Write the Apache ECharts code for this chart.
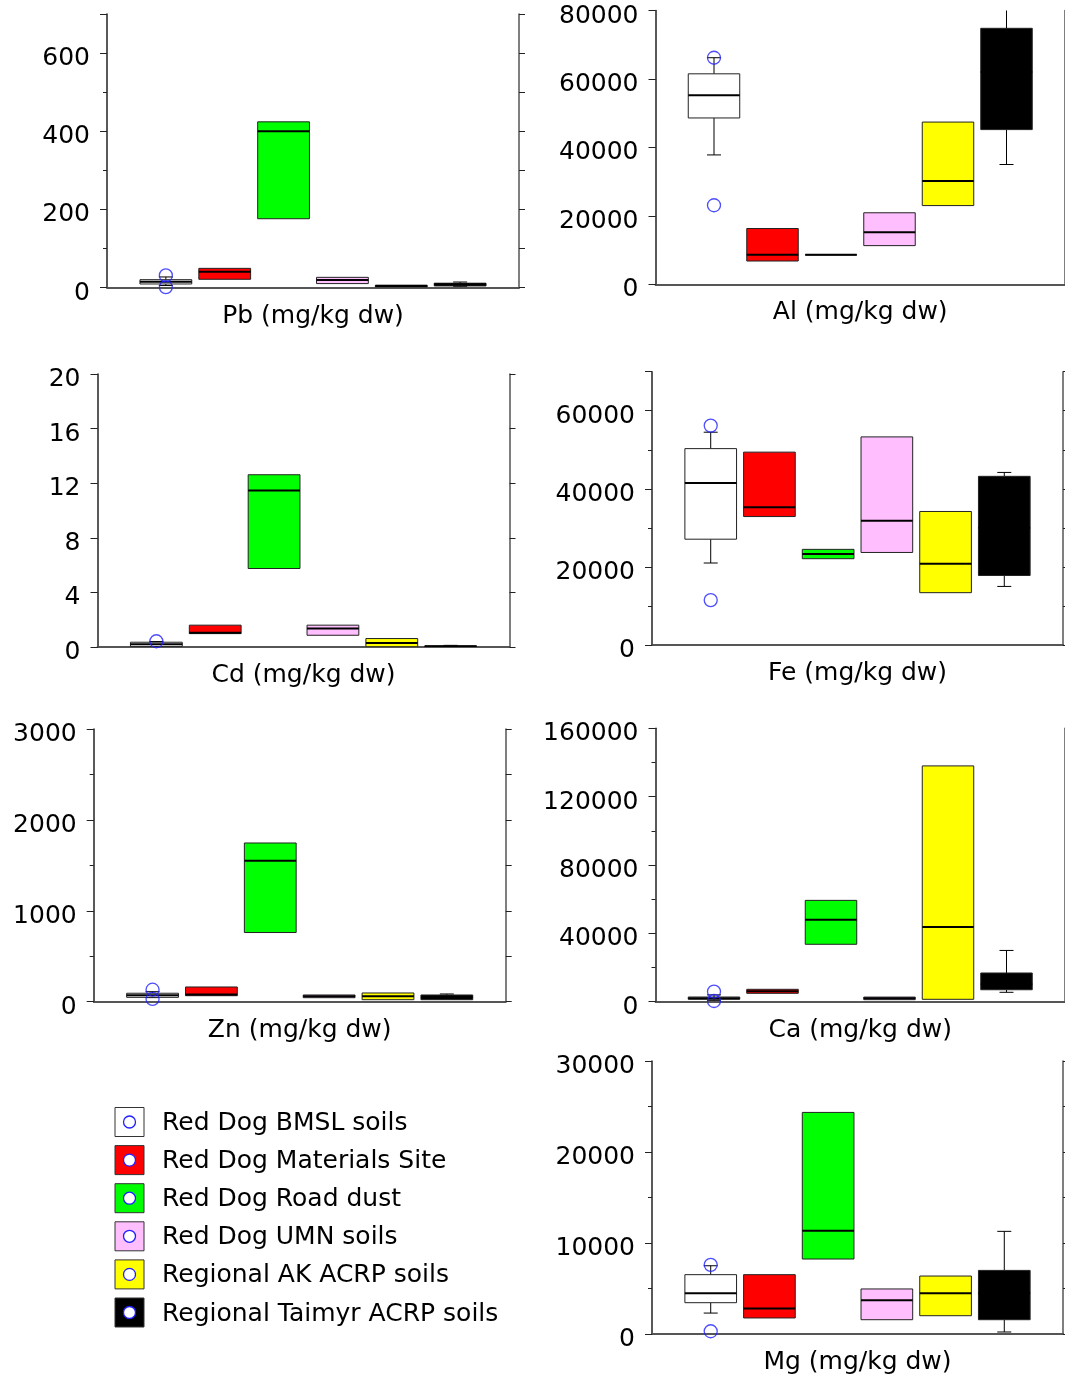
<!DOCTYPE html>
<html><head><meta charset="utf-8">
<script src="https://cdn.jsdelivr.net/npm/echarts@6.0.0/dist/echarts.min.js"></script>
<style>html,body{margin:0;padding:0;background:#fff}#chart{width:1065px;height:1376px}</style>
</head><body><div id="chart"></div>
<script>
// ---------- data ----------
const groups = ['Red Dog BMSL soils', 'Red Dog Materials Site', 'Red Dog Road dust', 'Red Dog UMN soils', 'Regional AK ACRP soils', 'Regional Taimyr ACRP soils'];
const titles = ['Pb (mg/kg dw)', 'Al (mg/kg dw)', 'Cd (mg/kg dw)', 'Fe (mg/kg dw)', 'Zn (mg/kg dw)', 'Ca (mg/kg dw)', 'Mg (mg/kg dw)'];
// box statistics per group: [min, Q1, median, Q3, max]
const pbBoxes = [[5, 9, 15, 20, 27], [21, 21, 40, 49, 49], [176, 176, 400, 424, 424], [10, 10, 19, 26, 26], [1, 1, 4, 6, 6], [3, 4, 8, 11, 14]];
const alBoxes = [[37800, 48600, 55250, 61500, 66200], [6800, 6800, 8600, 16300, 16300], [8600, 8600, 8600, 8600, 8600], [11300, 11300, 15200, 20900, 20900], [23000, 23000, 30200, 47400, 47400], [35000, 45200, 62000, 74800, 86000]];
const cdBoxes = [[0.02, 0.03, 0.2, 0.35, 0.4], [0.98, 0.98, 1.05, 1.6, 1.6], [5.75, 5.75, 11.47, 12.62, 12.62], [0.86, 0.86, 1.35, 1.6, 1.6], [0.02, 0.02, 0.3, 0.62, 0.62], [0.01, 0.02, 0.05, 0.08, 0.12]];
const feBoxes = [[21000, 27100, 41500, 50300, 54500], [32900, 32900, 35300, 49400, 49400], [22100, 22100, 23300, 24500, 24500], [23700, 23700, 31800, 53300, 53300], [13400, 13400, 20800, 34200, 34200], [15000, 17800, 30000, 43200, 44200]];
const znBoxes = [[45, 48, 70, 93, 110], [66, 66, 80, 162, 162], [761, 761, 1551, 1746, 1746], [44, 44, 60, 74, 74], [22, 22, 60, 96, 96], [22, 22, 50, 74, 85]];
const caBoxes = [[800, 1400, 2000, 2750, 4000], [4900, 4900, 6100, 7250, 7250], [33600, 33600, 48000, 59300, 59300], [1200, 1200, 2000, 2700, 2700], [1400, 1400, 43700, 138000, 138000], [5500, 7000, 10200, 16800, 30000]];
const mgBoxes = [[2300, 3440, 4470, 6520, 7500], [1760, 1760, 2810, 6520, 6520], [8240, 8240, 11350, 24350, 24350], [1570, 1570, 3700, 4950, 4950], [2010, 2010, 4470, 6370, 6370], [220, 1570, 4470, 6990, 11280]];
// outliers: [groupIndex, value]
const pbOutliers = [[0, 31], [0, 1]];
const alOutliers = [[0, 66200], [0, 23100]];
const cdOutliers = [[0, 0.42]];
const feOutliers = [[0, 56200], [0, 11500]];
const znOutliers = [[0, 132], [0, 30]];
const caOutliers = [[0, 5900], [0, 400]];
const mgOutliers = [[0, 7600], [0, 300]];
// axis scales
const yMax = [700, 80000, 20, 70000, 3000, 160000, 30000];
const yMajor = [200, 20000, 4, 20000, 1000, 40000, 10000];
const yMinor = [100, 20000, 4, 10000, 500, 20000, 5000];

const allBoxes = [pbBoxes, alBoxes, cdBoxes, feBoxes, znBoxes, caBoxes, mgBoxes];
const allOutliers = [pbOutliers, alOutliers, cdOutliers, feOutliers, znOutliers, caOutliers, mgOutliers];

// ---------- style / layout ----------
const boxColors = ['#ffffff', '#ff0000', '#00ff00', '#ffbfff', '#ffff00', '#000000'];
const FONT = 'DejaVu Sans';
const FS = 25;
const layout = [
  {left: 107, top: 14, width: 412, height: 273.5},
  {left: 655.5, top: 10.5, width: 411, height: 273.8},
  {left: 97.5, top: 374, width: 412, height: 273},
  {left: 652, top: 371.7, width: 411, height: 273.3},
  {left: 93.7, top: 729, width: 412, height: 272.7},
  {left: 655.5, top: 728.3, width: 410, height: 273.4},
  {left: 652, top: 1061, width: 411, height: 273.5}
];

function renderBox(params, api) {
  const pos = api.value(0);
  const mn = api.value(1), q1 = api.value(2), md = api.value(3), q3 = api.value(4), mx = api.value(5);
  const band = api.size([1, 0])[0];
  const half = band * 0.44;
  const cap = 7;
  const cx = api.coord([pos, q3])[0];
  const y = v => api.coord([pos, v])[1];
  const children = [];
  const ln = (x1, y1, x2, y2, w) => ({type: 'line', shape: {x1, y1, x2, y2}, style: {stroke: '#000', lineWidth: w || 1}});
  if (mx > q3) { children.push(ln(cx, y(q3), cx, y(mx)), ln(cx - cap, y(mx), cx + cap, y(mx))); }
  if (mn < q1) { children.push(ln(cx, y(q1), cx, y(mn)), ln(cx - cap, y(mn), cx + cap, y(mn))); }
  children.push({type: 'rect', shape: {x: cx - half, y: y(q3), width: 2 * half, height: y(q1) - y(q3)},
    style: {fill: boxColors[pos - 1], stroke: '#222', lineWidth: 1}});
  children.push(ln(cx - half, y(md), cx + half, y(md), 2));
  return {type: 'group', children};
}

const grid = [], xAxis = [], yAxis = [], series = [];
layout.forEach((L, i) => {
  grid.push(Object.assign({}, L));
  const xa = xAxis.length;
  xAxis.push({gridIndex: i, type: 'value', min: 0, max: 7, show: false});
  xAxis.push({gridIndex: i, type: 'category', data: [''], position: 'bottom', boundaryGap: true,
    axisLine: {lineStyle: {color: '#222', width: 1.5}},
    axisTick: {alignWithLabel: true, length: 6, lineStyle: {color: '#222'}},
    axisLabel: {show: false},
    name: titles[i], nameLocation: 'middle', nameGap: 16,
    nameTextStyle: {fontSize: FS, color: '#000', fontFamily: FONT}});
  xAxis.push({gridIndex: i, type: 'category', data: [''], position: 'top', boundaryGap: true,
    axisLine: {lineStyle: {color: '#555', width: 1.5}},
    axisTick: {alignWithLabel: true, length: 6, lineStyle: {color: '#222'}},
    axisLabel: {show: false}});
  const ya = yAxis.length;
  const major = yMajor[i];
  yAxis.push({gridIndex: i, type: 'value', min: 0, max: yMax[i], interval: major, position: 'left',
    axisLine: {show: true, lineStyle: {color: '#222', width: 1.5}},
    axisTick: {show: true, length: 7, lineStyle: {color: '#222'}},
    splitLine: {show: false},
    axisLabel: {margin: 17, fontSize: FS, color: '#000', fontFamily: FONT, verticalAlign: 'top', lineHeight: 11,
      formatter: v => (Math.abs(v / major - Math.round(v / major)) < 1e-9 ? String(v) : '')}});
  yAxis.push({gridIndex: i, type: 'value', min: 0, max: yMax[i], interval: yMinor[i], position: 'left',
    axisLine: {show: false}, axisTick: {show: true, length: 4, lineStyle: {color: '#222'}},
    axisLabel: {show: false}, splitLine: {show: false}});
  yAxis.push({gridIndex: i, type: 'value', min: 0, max: yMax[i], interval: yMinor[i], position: 'right',
    axisLine: {show: true, lineStyle: {color: '#555', width: 1.5}},
    axisTick: {show: true, length: 6, lineStyle: {color: '#222'}},
    axisLabel: {show: false}, splitLine: {show: false}});
  series.push({type: 'custom', xAxisIndex: xa, yAxisIndex: ya, clip: true,
    renderItem: renderBox, encode: {x: 0, y: [1, 2, 3, 4, 5]},
    data: allBoxes[i].map((b, g) => [g + 1].concat(b))});
  series.push({type: 'scatter', xAxisIndex: xa, yAxisIndex: ya, clip: true, z: 5,
    symbol: 'circle', symbolSize: 13,
    itemStyle: {color: 'rgba(0,0,0,0)', borderColor: '#2020ff', borderWidth: 1.3},
    data: allOutliers[i].map(o => [o[0] + 1, o[1]])});
});

const legendItems = groups.map((name, i) => ({
  type: 'group', x: 115, y: 1107.5 + 38.1 * i,
  children: [
    {type: 'rect', shape: {x: 0, y: 0, width: 29, height: 29}, style: {fill: boxColors[i], stroke: '#333', lineWidth: 1}},
    {type: 'circle', shape: {cx: 14.5, cy: 14.5, r: 6}, style: {fill: '#fff', stroke: '#2020ff', lineWidth: 1.3}},
    {type: 'text', x: 47, y: 16, style: {text: name, fontSize: FS, fontFamily: FONT, fill: '#000', verticalAlign: 'middle'}}
  ]
}));

const chart = echarts.init(document.getElementById('chart'), null, {renderer: 'canvas'});
chart.setOption({animation: false, backgroundColor: '#fff', grid, xAxis, yAxis, series, graphic: legendItems});
</script></body></html>
